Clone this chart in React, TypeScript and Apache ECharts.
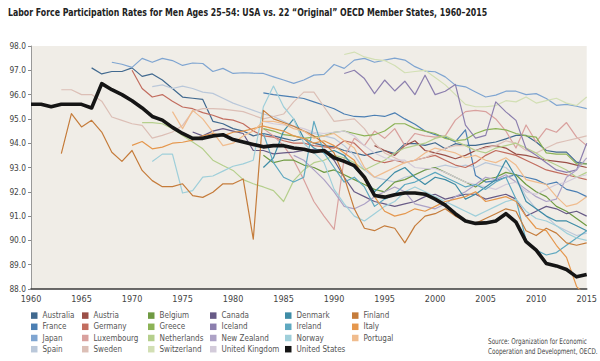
import { useEffect, useRef } from "react";
import * as echarts from "echarts";

const chartTitle =
  "Labor Force Participation Rates for Men Ages 25–54: USA vs. 22 \u201cOriginal\u201d OECD Member States, 1960–2015";
const sourceLines = ["Source: Organization for Economic", "Cooperation and Development, OECD."];

const yearMin = 1960;
const yearMax = 2015;
const valueMin = 88;
const valueMax = 98;

// ---- data: start year + one value per year ----
const unitedStatesStart = 1960;
const unitedStates = [
  95.6, 95.6, 95.5, 95.6, 95.6, 95.6, 95.45, 96.45, 96.2, 96.0,
  95.75, 95.45, 95.1, 94.95, 94.65, 94.4, 94.2, 94.2, 94.3, 94.35,
  94.15, 94.05, 93.95, 93.85, 93.9, 93.9, 93.8, 93.75, 93.65, 93.7,
  93.4, 93.25, 93.08, 92.6, 91.85, 91.78, 91.88, 91.95, 91.95, 91.9,
  91.7, 91.45, 91.1, 90.8, 90.7, 90.72, 90.8, 91.1, 90.75, 89.95,
  89.6, 89.05, 88.95, 88.8, 88.5, 88.6,
];
const australiaStart = 1966;
const australia = [
  97.1, 96.85, 96.95, 96.95, 97.1, 96.75, 96.85, 96.6, 96.25, 95.9,
  95.85, 95.8, 94.9, 94.8, 94.6, 94.5, 94.3, 94.4, 94.3, 94.2,
  94.1, 94.2, 94.0, 93.9, 93.85, 93.7, 93.6, 93.5, 93.6, 93.7,
  93.57, 93.98, 93.98, 93.91, 94.02, 93.77, 93.98, 93.91, 93.91, 93.98,
  94.05, 94.18, 94.32, 94.32, 94.05, 93.7, 93.63, 93.63, 93.22, 93.15,
];
const franceStart = 1983;
const france = [
  96.07, 96.0, 95.95, 95.9, 95.84, 95.7, 95.56, 95.42, 95.2, 95.1,
  95.08, 95.15, 95.1, 95.25, 95.0, 94.78, 94.5, 94.35, 94.25, 94.05,
  94.55, 92.67, 92.4, 92.46, 92.6, 92.7, 92.6, 92.5, 92.3, 92.4,
  92.1, 92.0, 91.8,
];
const japanStart = 1968;
const japan = [
  97.33, 97.25, 97.12, 97.49, 97.33, 97.49, 97.4, 97.2, 97.3, 97.28,
  96.95, 97.08, 96.87, 96.9, 96.88, 96.87, 96.73, 96.6, 96.46, 96.6,
  96.8, 96.83, 97.24, 97.08, 97.42, 97.49, 97.33, 97.42, 97.5, 97.42,
  97.15, 96.97, 96.94, 96.73, 96.39, 96.32, 96.11, 95.9, 95.98, 96.14,
  96.14, 96.0, 96.04, 95.84, 95.56, 95.6, 95.52, 95.42,
];
const spainStart = 1972;
const spain = [
  96.33, 96.4, 96.25, 96.35, 96.25, 96.1, 96.05, 95.85, 95.65, 95.5,
  95.35, 95.2, 95.1, 94.9, 94.7, 94.5, 94.4, 94.3, 94.2, 93.9,
  93.5, 92.9, 92.6, 92.5, 92.4, 92.6, 92.7, 92.9, 93.0, 93.1,
  93.0, 93.1, 93.0, 93.2, 93.1, 93.0, 92.6, 91.8, 91.3, 91.0,
  90.6, 90.4, 90.2, 90.3,
];
const austriaStart = 1994;
const austria = [
  93.9, 93.7, 93.5, 93.9, 94.1, 93.7, 93.6, 93.5, 93.36, 93.5,
  93.7, 93.85, 93.9, 93.8, 93.55, 93.5, 93.4, 93.3, 93.25, 93.2,
  93.1, 93.0,
];
const germanyStart = 1970;
const germany = [
  97.0, 96.25, 95.9, 96.0, 95.73, 95.49, 95.42, 95.26, 95.15, 95.0,
  94.95, 94.8, 94.5, 94.3, 94.25, 94.1, 94.0, 94.0, 93.9, 93.85,
  93.8, 94.1, 94.0, 93.6, 93.3, 93.2, 93.3, 93.2, 93.3, 93.4,
  93.5, 93.3, 93.1, 93.0, 93.2, 93.5, 93.7, 93.6, 93.5, 93.3,
  93.1, 92.9, 92.8, 92.7, 92.6, 92.5,
];
const luxembourgStart = 1983;
const luxembourg = [
  94.6, 94.3, 93.9, 93.3, 92.5, 91.6, 91.0, 90.45, 93.4, 94.2,
  93.9, 94.5, 94.2, 94.6, 93.9, 94.4, 94.3, 94.25, 94.3, 94.95,
  95.3, 95.35, 95.3, 95.0, 94.5, 93.8, 94.75, 94.05, 94.6, 94.45,
  94.85, 94.25, 93.9,
];
const swedenStart = 1963;
const sweden = [
  96.2, 96.2, 96.0, 96.0, 95.73, 95.08, 94.94, 94.8, 94.73, 94.21,
  94.32, 94.46, 94.73, 95.31, 95.42, 95.42, 95.4, 95.35, 95.3, 95.15,
  95.0, 95.1, 95.2, 95.7, 96.1, 96.1, 95.5, 94.9, 94.95, 95.0,
  94.6, 94.0, 93.6, 93.4, 93.2, 93.3, 93.4, 93.6, 93.8, 93.9,
  93.9, 93.7, 93.8, 93.9, 94.1, 94.0, 93.7, 93.6, 93.8, 94.0,
  94.1, 94.2, 94.3,
];
const belgiumStart = 1983;
const belgium = [
  93.5, 93.2, 93.3, 93.3, 93.1, 93.0, 92.8, 92.9, 92.7, 92.5,
  92.3, 92.1, 92.0, 92.4, 92.5, 92.7, 92.9, 93.0, 92.8, 92.6,
  92.4, 92.2, 92.5, 92.6, 92.8, 92.7, 92.3, 92.0, 91.8, 91.4,
  91.2, 90.9, 90.6,
];
const greeceStart = 1983;
const greece = [
  94.6, 94.5, 94.35, 94.3, 94.2, 94.25, 94.3, 94.45, 94.5, 94.4,
  94.3, 94.35, 94.5, 94.8, 94.8, 94.6, 94.5, 94.4, 94.2, 94.1,
  94.15, 94.4, 94.55, 94.6, 94.55, 94.4, 94.3, 94.25, 93.6, 93.55,
  93.55, 93.15, 93.15,
];
const netherlandsStart = 1971;
const netherlands = [
  94.85, 94.85, 94.8, 94.6, 94.32, 94.05, 93.77, 93.3, 93.08, 92.88,
  92.5, 92.33, 92.2, 92.05, 91.6, 92.46, 92.9, 93.2, 93.3, 93.5,
  93.4, 93.2, 92.9, 93.1, 93.3, 93.6, 93.8, 93.9, 94.0, 94.2,
  94.3, 94.1, 93.9, 93.7, 93.6, 93.8, 93.9, 94.0, 93.8, 93.6,
  93.3, 93.1, 92.9, 92.6, 92.8,
];
const switzerlandStart = 1991;
const switzerland = [
  97.65, 97.75, 97.55, 97.45, 97.4, 97.2, 96.9, 96.95, 97.0, 96.7,
  96.4, 96.0, 95.6, 95.5, 95.5, 95.55, 95.75, 95.7, 95.9, 95.65,
  95.75, 95.85, 95.65, 95.55, 95.9,
];
const canadaStart = 1976;
const canada = [
  94.46, 94.3, 94.5, 94.6, 94.5, 94.4, 93.7, 93.7, 93.56, 93.6,
  93.63, 93.7, 93.75, 93.7, 93.3, 92.6, 92.0, 91.8, 91.6, 91.5,
  91.4, 91.5, 91.6, 91.8, 91.9, 91.7, 91.8, 91.9, 91.9, 91.7,
  91.8, 91.9, 91.7, 91.0, 91.2, 91.4, 91.3, 91.1, 91.2, 91.0,
];
const icelandStart = 1991;
const iceland = [
  96.87, 97.0, 96.66, 96.04, 96.6, 96.15, 96.55, 96.0, 96.8, 96.0,
  96.14, 96.42, 94.74, 94.21, 94.32, 95.7, 95.29, 94.94, 93.77, 93.5,
  93.2, 92.9, 92.8, 92.9, 94.0,
];
const newZealandStart = 1986;
const newZealand = [
  93.5, 93.3, 92.9, 92.5, 92.0, 91.4, 91.3, 91.5, 91.8, 92.0,
  92.2, 92.0, 91.5, 91.4, 91.3, 91.5, 91.8, 92.0, 92.3, 92.6,
  92.5, 92.7, 92.4, 92.1, 91.8, 91.6, 91.7, 92.6, 92.9, 93.4,
];
const unitedKingdomStart = 1983;
const unitedKingdom = [
  94.9, 94.8, 94.75, 94.7, 94.6, 94.45, 94.4, 94.45, 94.5, 94.3,
  93.9, 93.6, 93.4, 93.3, 93.3, 93.0, 92.95, 92.95, 92.8, 92.6,
  92.4, 92.3, 92.2, 92.1, 92.3, 92.4, 92.0, 91.9, 92.1, 92.3,
  92.4, 92.6, 92.7,
];
const denmarkStart = 1983;
const denmark = [
  93.0, 93.4, 94.5, 95.0, 94.2, 93.8, 93.6, 93.7, 93.5, 93.0,
  92.6, 92.0, 92.4, 92.8, 93.0, 92.6, 92.3, 92.6, 92.5, 92.3,
  91.7, 91.9, 92.2, 92.5, 93.3, 92.6, 91.6, 91.3, 91.0, 90.8,
  90.8, 90.6, 90.4,
];
const irelandStart = 1983;
const ireland = [
  94.4, 93.2, 92.6, 92.4, 92.6, 94.9, 93.6, 93.0, 92.4, 92.6,
  92.2, 91.4, 91.7, 91.9, 92.3, 92.4, 92.6, 92.8, 92.6, 92.4,
  92.2, 92.3, 92.1, 92.4, 92.6, 91.7, 90.0, 89.6, 89.4, 89.5,
  89.8, 90.1, 90.4,
];
const norwayStart = 1972;
const norway = [
  93.25, 93.55, 93.55, 91.95, 92.05, 92.6, 92.65, 92.85, 93.05, 93.15,
  93.3, 95.5, 96.35, 95.5, 95.0, 94.0, 93.6, 93.2, 92.1, 91.5,
  91.0, 90.8, 91.1, 91.4, 91.6, 92.0, 92.2, 92.0, 91.8, 91.6,
  91.4, 91.2, 91.0, 91.2, 91.4, 91.6, 91.7, 91.2, 90.9, 90.8,
  90.6, 90.3, 90.1, 90.0,
];
const finlandStart = 1963;
const finland = [
  93.57, 95.22, 94.67, 94.94, 94.46, 93.63, 93.25, 93.7, 92.88, 92.46,
  92.21, 92.21, 92.33, 91.84, 91.77, 91.98, 92.33, 92.33, 92.53, 90.05,
  95.35, 95.0, 94.85, 94.7, 94.5, 94.3, 94.0, 93.6, 92.6, 91.3,
  90.5, 90.4, 90.6, 90.5, 89.9, 90.6, 91.0, 91.1, 91.3, 91.0,
  90.8, 90.7, 90.9, 91.1, 91.3, 91.2, 90.4, 90.2, 90.5, 90.3,
  89.9, 89.8, 89.9,
];
const italyStart = 1970;
const italy = [
  93.91, 94.07, 93.77, 93.84, 94.0, 94.04, 94.13, 94.3, 94.4, 94.3,
  94.45, 94.5, 94.6, 94.7, 94.6, 94.5, 94.3, 94.2, 94.0, 94.1,
  93.9, 93.6, 93.3, 92.5, 91.8, 91.2, 91.0, 91.1, 91.3, 91.2,
  91.4, 91.6, 91.7, 91.8, 92.0, 91.6, 91.7, 91.8, 91.6, 91.0,
  90.5, 90.4, 89.8, 89.3, 88.1, 87.7,
];
const portugalStart = 1974;
const portugal = [
  95.3, 94.6, 95.35, 95.0, 94.46, 93.9, 94.0, 94.3, 94.5, 94.9,
  94.9, 94.8, 94.6, 94.5, 94.2, 94.3, 94.4, 94.1, 93.8, 93.0,
  92.6, 92.8, 93.0, 93.2, 93.3, 93.6, 93.8, 93.7, 93.6, 93.4,
  93.5, 93.3, 93.2, 93.4, 93.1, 92.5, 92.4, 92.3, 91.8, 91.4,
  91.5, 91.8,
];

type Country = { name: string; start: number; values: number[]; color: string };

const countries: Country[] = [
  { name: "Australia", start: australiaStart, values: australia, color: "#41698f" },
  { name: "France", start: franceStart, values: france, color: "#4b7fb3" },
  { name: "Japan", start: japanStart, values: japan, color: "#7fa5d1" },
  { name: "Spain", start: spainStart, values: spain, color: "#bac8da" },
  { name: "Austria", start: austriaStart, values: austria, color: "#9b4f47" },
  { name: "Germany", start: germanyStart, values: germany, color: "#c26d5f" },
  { name: "Luxembourg", start: luxembourgStart, values: luxembourg, color: "#d9a19e" },
  { name: "Sweden", start: swedenStart, values: sweden, color: "#dcbfb6" },
  { name: "Belgium", start: belgiumStart, values: belgium, color: "#6f9a42" },
  { name: "Greece", start: greeceStart, values: greece, color: "#8cb356" },
  { name: "Netherlands", start: netherlandsStart, values: netherlands, color: "#b5cf8c" },
  { name: "Switzerland", start: switzerlandStart, values: switzerland, color: "#d2dfb4" },
  { name: "Canada", start: canadaStart, values: canada, color: "#675a86" },
  { name: "Iceland", start: icelandStart, values: iceland, color: "#8c7fae" },
  { name: "New Zealand", start: newZealandStart, values: newZealand, color: "#ada2c6" },
  { name: "United Kingdom", start: unitedKingdomStart, values: unitedKingdom, color: "#d3cbda" },
  { name: "Denmark", start: denmarkStart, values: denmark, color: "#3e8ca6" },
  { name: "Ireland", start: irelandStart, values: ireland, color: "#5ea8c0" },
  { name: "Norway", start: norwayStart, values: norway, color: "#9fcfda" },
  { name: "Finland", start: finlandStart, values: finland, color: "#c57c3b" },
  { name: "Italy", start: italyStart, values: italy, color: "#e5974d" },
  { name: "Portugal", start: portugalStart, values: portugal, color: "#f0bc8e" },
  { name: "United States", start: unitedStatesStart, values: unitedStates, color: "#151515" },
];

const legendColumns = [
  ["Australia", "France", "Japan", "Spain"],
  ["Austria", "Germany", "Luxembourg", "Sweden"],
  ["Belgium", "Greece", "Netherlands", "Switzerland"],
  ["Canada", "Iceland", "New Zealand", "United Kingdom"],
  ["Denmark", "Ireland", "Norway", "United States"],
  ["Finland", "Italy", "Portugal"],
];
const legendLefts = [31, 82, 148, 210, 285, 352];

const fontStack = "'DejaVu Sans Condensed', 'DejaVu Sans', sans-serif";

function measure(text: string, size: number, weight: string) {
  const ctx = document.createElement("canvas").getContext("2d");
  if (!ctx) return text.length * size * 0.5;
  ctx.font = `${weight} ${size}px ${fontStack}`;
  return ctx.measureText(text).width;
}

export default function App() {
  const ref = useRef<HTMLDivElement>(null);
  useEffect(() => {
    if (!ref.current) return;
    const chart = echarts.init(ref.current, undefined, { renderer: "svg" });

    const titleSize = 11;
    const titleScale = 480 / measure(chartTitle, titleSize, "bold");
    const legendSize = Math.min(9.5, (9.5 * 58) / measure("United Kingdom", 9.5, "normal"));
    const sourceSize = 8;
    const sourceScale = 99 / measure(sourceLines[0], sourceSize, "normal");

    const series = countries.map((c) => {
      const isUS = c.name === "United States";
      return {
        name: c.name,
        type: "line",
        data: c.values.map((v, i) => [c.start + i, v]),
        showSymbol: false,
        symbol: "none",
        color: c.color,
        lineStyle: { color: c.color, width: isUS ? 3.6 : 1.2, join: "round" },
        z: isUS ? 10 : 2,
        clip: true,
      };
    });

    chart.setOption({
      animation: false,
      backgroundColor: "#ffffff",
      grid: {
        left: 31,
        right: 7,
        top: 46,
        bottom: 72,
        show: true,
        backgroundColor: "#f0ede7",
        borderWidth: 0,
      },
      xAxis: {
        type: "value",
        min: yearMin,
        max: yearMax,
        interval: 5,
        axisLine: { show: true, lineStyle: { color: "#3a3a3a", width: 1.6 } },
        axisTick: { show: false },
        splitLine: { show: false },
        axisLabel: {
          formatter: (v: number) => String(v),
          fontFamily: fontStack,
          fontSize: 9,
          color: "#444",
          margin: 5,
        },
      },
      yAxis: {
        type: "value",
        min: valueMin,
        max: valueMax,
        interval: 1,
        axisLine: { show: true, lineStyle: { color: "#999", width: 1 } },
        axisTick: { show: true, length: 3, lineStyle: { color: "#888" } },
        splitLine: { show: false },
        axisLabel: {
          formatter: (v: number) => v.toFixed(1),
          fontFamily: fontStack,
          fontSize: 8.3,
          color: "#444",
          margin: 5,
        },
      },
      legend: legendColumns.map((col, i) => ({
        data: col,
        orient: "vertical",
        left: legendLefts[i],
        top: 310,
        icon: "rect",
        itemWidth: 6.5,
        itemHeight: 6.5,
        itemGap: 0,
        padding: 0,
        selectedMode: false,
        textStyle: { fontFamily: fontStack, fontSize: legendSize, color: "#555", lineHeight: 11.2 },
      })),
      graphic: [
        {
          type: "text",
          x: 8,
          y: 12,
          scaleX: titleScale,
          scaleY: 1,
          style: {
            text: chartTitle,
            fontFamily: fontStack,
            fontSize: titleSize,
            fontWeight: "bold",
            fill: "#222",
            verticalAlign: "middle",
          },
        },
        ...sourceLines.map((t, i) => ({
          type: "text",
          x: 488,
          y: 341 + i * 10.5,
          scaleX: sourceScale,
          scaleY: 1,
          style: {
            text: t,
            fontFamily: fontStack,
            fontSize: sourceSize,
            fill: "#444",
            verticalAlign: "middle",
          },
        })),
      ],
      series,
    });
    return () => chart.dispose();
  }, []);
  return (
    <div
      ref={ref}
      style={{ position: "fixed", left: 0, top: 0, width: 600, height: 361 }}
    />
  );
}
